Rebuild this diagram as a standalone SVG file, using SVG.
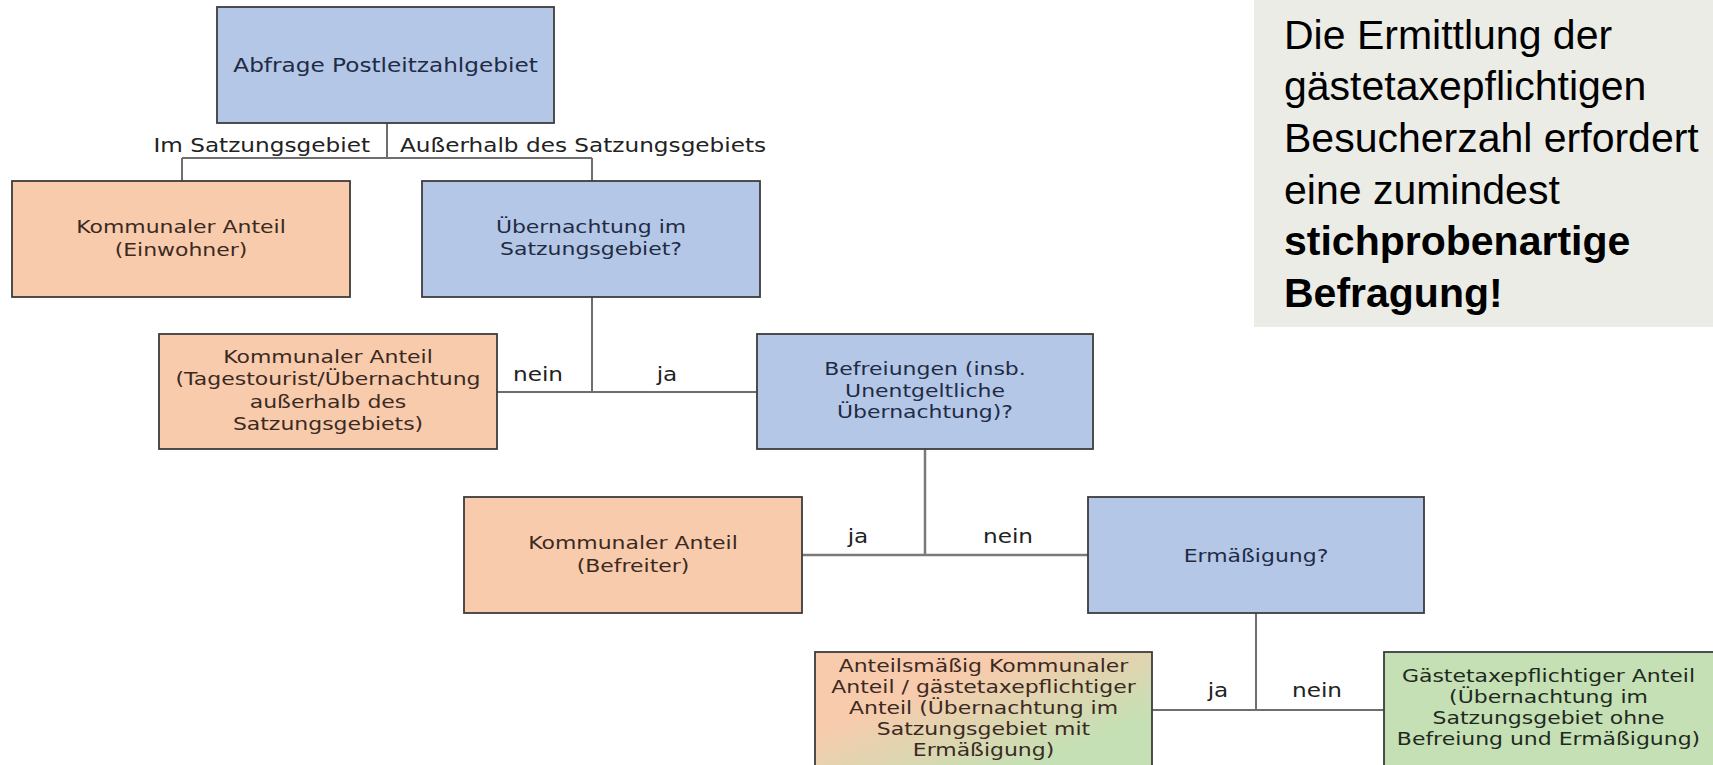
<svg xmlns="http://www.w3.org/2000/svg" width="1713" height="765" viewBox="0 0 1713 765">
<style>
.box{stroke:#3c3c3c;stroke-width:1.8}
.blue{fill:#B4C7E7}
.orange{fill:#F8CBAD}
.green{fill:#C5E0B4}
.t{font-family:"DejaVu Sans",sans-serif;font-size:18px;text-anchor:middle}
.tb{fill:#1f2b45}
.to{fill:#3b2a22}
.tg{fill:#1f2a1f}
.lbl{font-family:"DejaVu Sans",sans-serif;font-size:19px;fill:#222}
.c{fill:none;stroke:#6e6e6e;stroke-width:2}
.panel{fill:#ECECE7}
.p{font-family:"Liberation Sans",Arial,sans-serif;font-size:41px;fill:#000}
.pb{font-weight:bold}
</style>
<defs>
<linearGradient id="og" x1="0" y1="0" x2="1" y2="1">
<stop offset="0.3" stop-color="#F8CBAD"/>
<stop offset="0.75" stop-color="#C5E0B4"/>
</linearGradient>
</defs>
<rect width="1713" height="765" fill="#fff"/>

<g id="info-panel">
<rect class="panel" x="1254" y="0" width="459" height="327"/>
<text class="p" x="1284" y="49">Die Ermittlung der</text>
<text class="p" x="1284" y="100">gästetaxepflichtigen</text>
<text class="p" x="1284" y="152">Besucherzahl erfordert</text>
<text class="p" x="1284" y="204">eine zumindest</text>
<text class="p pb" x="1284" y="255">stichprobenartige</text>
<text class="p pb" x="1284" y="307">Befragung!</text>
</g>

<g id="connectors">
<path class="c" d="M387,123 V158 M182,158 H592 M182,158 V181 M592,158 V181"/>
<path class="c" d="M592,297 V392 M497,392 H757"/>
<path class="c" d="M925,449 V555 M802,555 H1088" style="stroke-width:2.5;stroke:#7a7a7a"/>
<path class="c" d="M1256,613 V710 M1152,710 H1384"/>
<g class="lbl">
<text transform="translate(370,152) scale(1.22,1)" text-anchor="end">Im Satzungsgebiet</text>
<text transform="translate(400,152) scale(1.22,1)">Außerhalb des Satzungsgebiets</text>
<text transform="translate(538,381) scale(1.22,1)" text-anchor="middle">nein</text>
<text transform="translate(667,381) scale(1.22,1)" text-anchor="middle">ja</text>
<text transform="translate(858,543) scale(1.22,1)" text-anchor="middle">ja</text>
<text transform="translate(1008,543) scale(1.22,1)" text-anchor="middle">nein</text>
<text transform="translate(1218,697) scale(1.22,1)" text-anchor="middle">ja</text>
<text transform="translate(1317,697) scale(1.22,1)" text-anchor="middle">nein</text>
</g>
</g>

<g id="abfrage">
<rect class="box blue" x="217" y="7" width="337" height="116"/>
<text class="t tb" style="font-size:19px" transform="translate(385.5,72) scale(1.22,1)">Abfrage Postleitzahlgebiet</text>
</g>

<g id="einwohner">
<rect class="box orange" x="12" y="181" width="338" height="116"/>
<text class="t to" transform="translate(181,0) scale(1.22,1)"><tspan x="0" y="233">Kommunaler Anteil</tspan><tspan x="0" y="256">(Einwohner)</tspan></text>
</g>

<g id="uebernachtung">
<rect class="box blue" x="422" y="181" width="338" height="116"/>
<text class="t tb" transform="translate(591,0) scale(1.22,1)"><tspan x="0" y="233">Übernachtung im</tspan><tspan x="0" y="255">Satzungsgebiet?</tspan></text>
</g>

<g id="tagestourist">
<rect class="box orange" x="159" y="334" width="338" height="115"/>
<text class="t to" transform="translate(328,0) scale(1.22,1)"><tspan x="0" y="363">Kommunaler Anteil</tspan><tspan x="0" y="385">(Tagestourist/Übernachtung</tspan><tspan x="0" y="408">außerhalb des</tspan><tspan x="0" y="430">Satzungsgebiets)</tspan></text>
</g>

<g id="befreiungen">
<rect class="box blue" x="757" y="334" width="336" height="115"/>
<text class="t tb" transform="translate(925,0) scale(1.22,1)"><tspan x="0" y="375">Befreiungen (insb.</tspan><tspan x="0" y="397">Unentgeltliche</tspan><tspan x="0" y="418">Übernachtung)?</tspan></text>
</g>

<g id="befreiter">
<rect class="box orange" x="464" y="497" width="338" height="116"/>
<text class="t to" transform="translate(633,0) scale(1.22,1)"><tspan x="0" y="549">Kommunaler Anteil</tspan><tspan x="0" y="572">(Befreiter)</tspan></text>
</g>

<g id="ermaessigung">
<rect class="box blue" x="1088" y="497" width="336" height="116"/>
<text class="t tb" transform="translate(1256,562) scale(1.22,1)">Ermäßigung?</text>
</g>

<g id="anteilsmaessig">
<rect class="box" fill="url(#og)" x="815" y="652" width="337" height="130"/>
<text class="t to" transform="translate(983.5,0) scale(1.22,1)"><tspan x="0" y="672">Anteilsmäßig Kommunaler</tspan><tspan x="0" y="693">Anteil / gästetaxepflichtiger</tspan><tspan x="0" y="714">Anteil (Übernachtung im</tspan><tspan x="0" y="735">Satzungsgebiet mit</tspan><tspan x="0" y="756">Ermäßigung)</tspan></text>
</g>

<g id="gaestetaxe">
<rect class="box green" x="1384" y="652" width="340" height="130"/>
<text class="t tg" transform="translate(1548.5,0) scale(1.22,1)"><tspan x="0" y="682">Gästetaxepflichtiger Anteil</tspan><tspan x="0" y="703">(Übernachtung im</tspan><tspan x="0" y="724">Satzungsgebiet ohne</tspan><tspan x="0" y="745">Befreiung und Ermäßigung)</tspan></text>
</g>
</svg>
